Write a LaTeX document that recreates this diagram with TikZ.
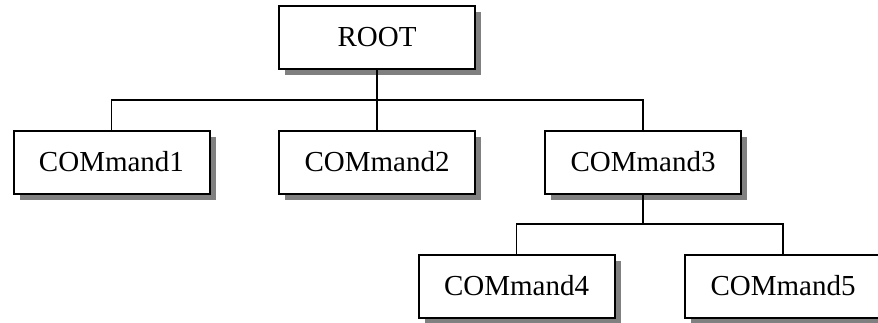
\documentclass[tikz,border=0pt]{standalone}
\usepackage{fontspec}
\setmainfont{Liberation Serif}
\usetikzlibrary{shadows}

\begin{document}
\begin{tikzpicture}[x=0.5pt,y=-0.5pt,
  cmdbox/.style={draw, line width=1pt, fill=white, rectangle, inner sep=0pt,
    minimum width=98pt, minimum height=31.5pt,
    font=\fontsize{14.5}{16}\selectfont,
    drop shadow={shadow xshift=3pt, shadow yshift=-3pt, fill=black!50, opacity=1}},
  link/.style={line width=0.8pt}]
\useasboundingbox (0,0) rectangle (878,322);
\node[cmdbox] (root) at (377,37.5) {ROOT};
\node[cmdbox] (cmd1) at (111.5,162) {COMmand1};
\node[cmdbox] (cmd2) at (377,162) {COMmand2};
\node[cmdbox] (cmd3) at (643,162) {COMmand3};
\node[cmdbox] (cmd4) at (516.5,286) {COMmand4};
\node[cmdbox] (cmd5) at (783,286) {COMmand5};
\coordinate (bar1) at (377,100);
\coordinate (bar2) at (643,224);
\draw[link] (root) -- (bar1);
\draw[link] (cmd1) |- (bar1);
\draw[link] (cmd3) |- (bar1);
\draw[link] (bar1) -- (cmd2);
\draw[link] (cmd3) -- (bar2);
\draw[link] (cmd4) |- (bar2);
\draw[link] (cmd5) |- (bar2);
\end{tikzpicture}
\end{document}
